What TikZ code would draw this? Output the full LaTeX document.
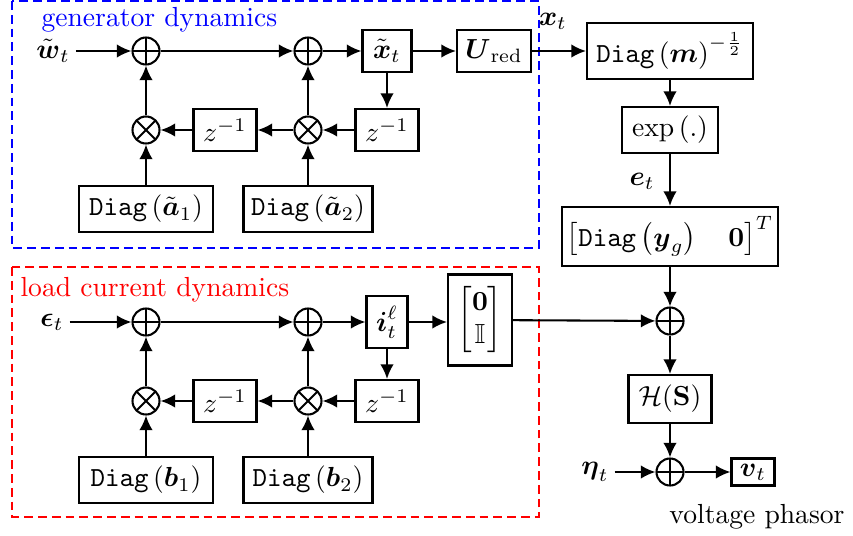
\documentclass[tikz,border=0pt]{standalone}
\usepackage{amsmath,amssymb}
\usetikzlibrary{arrows.meta}
\tikzset{
  sz/.style 2 args={minimum width=#1*0.3623pt, minimum height=#2*0.3623pt},
  blk/.style={draw, line width=0.75pt, inner sep=0pt},
  arr/.style={-{Latex[length=5.3pt,width=4.9pt]}, line width=0.75pt},
  lbl/.style={inner sep=2pt},
  sumnode/.style={circle, draw, line width=0.75pt, minimum size=27*0.3623pt, inner sep=0pt,
    path picture={\draw[line width=0.75pt] (path picture bounding box.north) -- (path picture bounding box.south)
      (path picture bounding box.west) -- (path picture bounding box.east);}},
  prodnode/.style={circle, draw, line width=0.75pt, minimum size=27*0.3623pt, inner sep=0pt,
    path picture={\draw[line width=0.75pt] (path picture bounding box.north west) -- (path picture bounding box.south east)
      (path picture bounding box.south west) -- (path picture bounding box.north east);}},
  grp/.style={dash pattern=on 3.2pt off 1.8pt, line width=0.6pt}
}
\begin{document}
\begin{tikzpicture}[x=0.3623pt,y=-0.3623pt]
\useasboundingbox (0,0) rectangle (853,535);
% group frames
\draw[grp, blue] (12,1) rectangle (539,248);
\draw[grp, red] (12,267) rectangle (539,517);
\node[anchor=base west, inner sep=0pt, text=blue] (gtitle) at (41,26) {generator dynamics};
\node[anchor=base west, inner sep=0pt, text=red] (ltitle) at (20,296) {load current dynamics};

% generator dynamics
\node[lbl] (wl) at (53,51) {$\tilde{\boldsymbol{w}}_t$};
\node[sumnode] (g1) at (146,51) {};
\node[sumnode] (g2) at (308,51) {};
\node[blk, sz={49}{42}] (xt) at (387,51) {$\tilde{\boldsymbol{x}}_t$};
\node[blk, sz={74}{42}] (ur) at (494,51) {$\boldsymbol{U}_{\mathrm{red}}$};
\node[blk, sz={63}{42}] (gz2) at (387,130) {$z^{-1}$};
\node[prodnode] (gm2) at (308,130) {};
\node[blk, sz={63}{42}] (gz1) at (225,130) {$z^{-1}$};
\node[prodnode] (gm1) at (146,130) {};
\node[blk, sz={134}{46}] (ga1) at (146,209) {$\mathtt{Diag}\left(\tilde{\boldsymbol{a}}_1\right)$};
\node[blk, sz={129}{46}] (ga2) at (308,209) {$\mathtt{Diag}\left(\tilde{\boldsymbol{a}}_2\right)$};

\draw[arr] (wl) -- (g1);
\draw[arr] (g1) -- (g2);
\draw[arr] (g2) -- (xt);
\draw[arr] (xt) -- (ur);
\draw[arr] (xt) -- (gz2);
\draw[arr] (gz2) -- (gm2);
\draw[arr] (gm2) -- (gz1);
\draw[arr] (gz1) -- (gm1);
\draw[arr] (gm1) -- (g1);
\draw[arr] (gm2) -- (g2);
\draw[arr] (ga1) -- (gm1);
\draw[arr] (ga2) -- (gm2);

% right column
\node[blk, sz={166}{56}] (dm) at (670,51) {$\mathtt{Diag}\left(\boldsymbol{m}\right)^{-\frac{1}{2}}$};
\node[lbl] (xl) at (553,21) {$\boldsymbol{x}_t$};
\node[blk, sz={96}{46}] (ex) at (670,130) {$\exp\left(.\right)$};
\node[lbl] (el) at (642,181) {$\boldsymbol{e}_t$};
\node[blk, sz={216}{59}] (dy) at (670,236.5) {$\left[\mathtt{Diag}\left(\boldsymbol{y}_g\right)\quad\mathbf{0}\right]^T$};
\node[sumnode] (o3) at (670,321) {};
\node[blk, sz={83}{48}] (hs) at (670,399) {$\mathcal{H}(\mathbf{S})$};
\node[sumnode] (o4) at (670,472) {};
\node[lbl] (etal) at (595,472) {$\boldsymbol{\eta}_t$};
\node[blk, sz={43}{27}] (vt) at (753,472) {$\boldsymbol{v}_t$};
\node[anchor=base, inner sep=0pt] (vp) at (757,523) {voltage phasor};

\draw[arr] (ur) -- (dm);
\draw[arr] (dm) -- (ex);
\draw[arr] (ex) -- (dy);
\draw[arr] (dy) -- (o3);
\draw[arr] (o3) -- (hs);
\draw[arr] (hs) -- (o4);
\draw[arr] (etal) -- (o4);
\draw[arr] (o4) -- (vt);

% load current dynamics
\node[lbl] (epl) at (52,322) {$\boldsymbol{\epsilon}_t$};
\node[sumnode] (l1) at (146,322) {};
\node[sumnode] (l2) at (308,322) {};
\node[blk, sz={41}{52}] (it) at (387,322) {$\boldsymbol{i}_t^{\ell}$};
\node[blk, sz={64}{91}] (oi) at (480,320) {$\begin{bmatrix}\mathbf{0}\\ \mathbb{I}\end{bmatrix}$};
\node[blk, sz={63}{42}] (lz2) at (387,401) {$z^{-1}$};
\node[prodnode] (lm2) at (308,401) {};
\node[blk, sz={63}{42}] (lz1) at (225,401) {$z^{-1}$};
\node[prodnode] (lm1) at (146,401) {};
\node[blk, sz={134}{46}] (lb1) at (146,480) {$\mathtt{Diag}\left(\boldsymbol{b}_1\right)$};
\node[blk, sz={129}{46}] (lb2) at (308,480) {$\mathtt{Diag}\left(\boldsymbol{b}_2\right)$};

\draw[arr] (epl) -- (l1);
\draw[arr] (l1) -- (l2);
\draw[arr] (l2) -- (it);
\draw[arr] (it) -- (oi.west |- it);
\draw[arr] (it) -- (lz2);
\draw[arr] (lz2) -- (lm2);
\draw[arr] (lm2) -- (lz1);
\draw[arr] (lz1) -- (lm1);
\draw[arr] (lm1) -- (l1);
\draw[arr] (lm2) -- (l2);
\draw[arr] (lb1) -- (lm1);
\draw[arr] (lb2) -- (lm2);
\draw[arr] (oi) -- (o3);
\end{tikzpicture}
\end{document}
